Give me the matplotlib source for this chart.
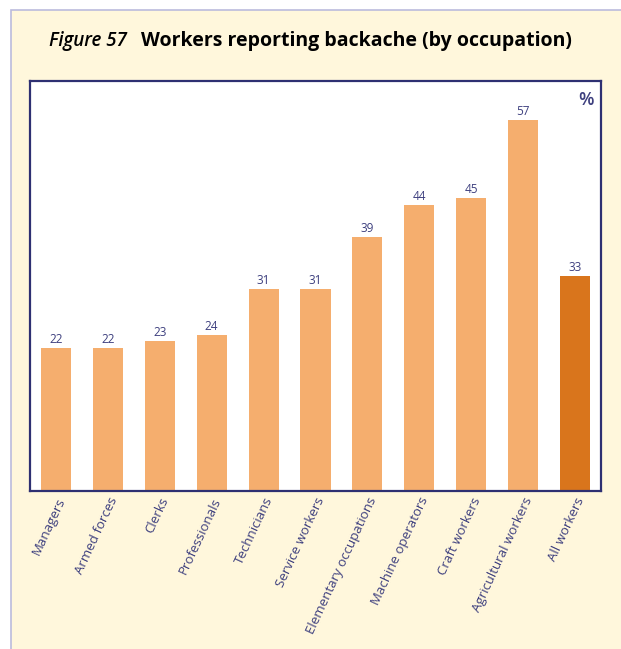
import matplotlib
matplotlib.use("Agg")
import matplotlib.pyplot as plt
from matplotlib.patches import Rectangle

plt.rcParams["font.family"] = ["Open Sans", "DejaVu Sans"]

occupations = ["Managers", "Armed forces", "Clerks", "Professionals", "Technicians",
               "Service workers", "Elementary occupations", "Machine operators",
               "Craft workers", "Agricultural workers", "All workers"]
values = [22, 22, 23, 24, 31, 31, 39, 44, 45, 57, 33]

navy = "#2E3072"
text_navy = "#3D3F7E"
light = "#F5AE6E"
dark = "#D9751C"

W, H = 621, 649
fig = plt.figure(figsize=(W / 100, H / 100), dpi=100)
fig.patch.set_facecolor("white")

# cream panel behind everything
fig.patches.append(Rectangle((11 / W, -0.01), 1.0, 1 - 10 / H + 0.01, transform=fig.transFigure,
                             facecolor="#FFF7DC", edgecolor="#BBBBDD", linewidth=1.2, zorder=-5))

ax = fig.add_axes([30 / W, 1 - 491 / H, 571 / W, 410 / H])
ax.set_zorder(2)
ax.set_facecolor("white")

colors = [light] * (len(values) - 1) + [dark]
x = range(len(values))
bars = ax.bar(x, values, width=0.58, color=colors, zorder=2)

for xi, v in zip(x, values):
    ax.text(xi, v + 0.3, str(v), ha="center", va="bottom", fontsize=8.5, color=text_navy)

ax.set_xlim(-0.5, len(values) - 0.5)
ax.set_ylim(0, 63)
ax.set_yticks([])
ax.set_xticks(list(x))
ax.set_xticklabels(occupations, rotation=65, ha="right", rotation_mode="anchor",
                   fontsize=9.5, color=text_navy)
ax.tick_params(axis="x", length=0, pad=3)

for s in ax.spines.values():
    s.set_color(navy)
    s.set_linewidth(1.6)

ax.text(0.988, 0.975, "%", transform=ax.transAxes, ha="right", va="top",
        fontsize=13, fontweight="semibold", color=text_navy)

fig.text(127 / W, 1 - 41 / H, "Figure 57", fontsize=13.5, style="italic",
         fontweight="semibold", ha="right", va="center", color="black")
fig.text(141 / W, 1 - 41 / H, "Workers reporting backache (by occupation)", fontsize=14,
         fontweight="bold", ha="left", va="center", color="black")

fig.savefig("out.png", dpi=100, facecolor=fig.get_facecolor())
